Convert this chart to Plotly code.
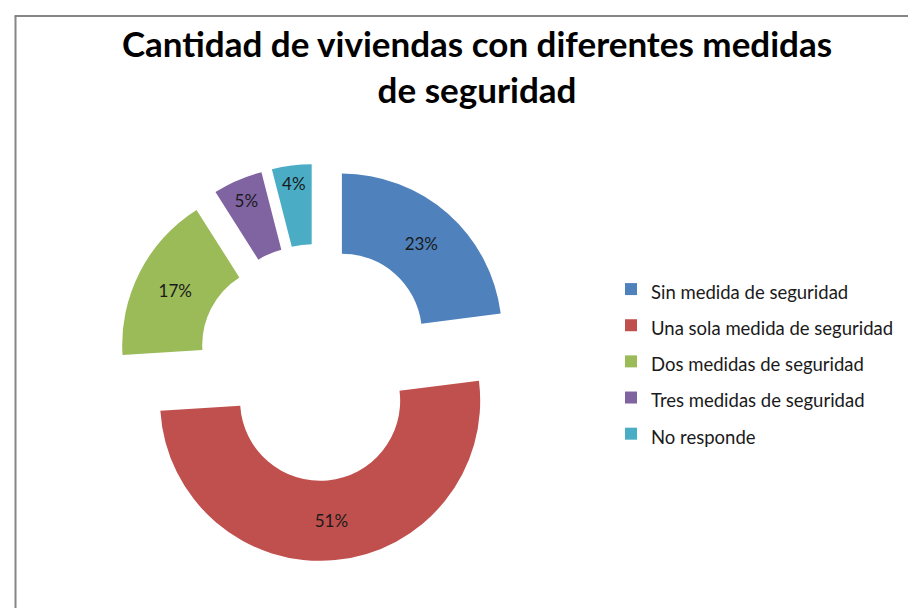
import plotly.graph_objects as go

categories = ["Sin medida de seguridad", "Una sola medida de seguridad",
              "Dos medidas de seguridad", "Tres medidas de seguridad", "No responde"]
percentages = [23, 51, 17, 5, 4]
colors = ["#4F81BD", "#C0504D", "#9BBB59", "#8064A2", "#4BACC6"]

W, H = 916, 608
legend_labels = ['<span style="font-size:18.5px">%s</span>' % c for c in categories]

fig = go.Figure(go.Pie(
    labels=legend_labels,
    values=percentages,
    text=[f"{p}%" for p in percentages],
    textinfo="text",
    textposition="inside",
    insidetextorientation="horizontal",
    textfont=dict(family="Lato", size=17, color="#1a1a1a"),
    marker=dict(colors=colors, line=dict(width=0)),
    hole=0.5,
    pull=[0.24] * 5,
    sort=False,
    direction="clockwise",
    rotation=0,
    domain=dict(x=[110 / W, 507 / W], y=[1 - 553 / H, 1 - 156 / H]),
    hoverinfo="label+text",
))

fig.update_layout(
    width=W, height=H,
    margin=dict(l=0, r=0, t=0, b=0),
    paper_bgcolor="white",
    plot_bgcolor="white",
    title=dict(
        text="<b>Cantidad de viviendas con diferentes medidas<br>de seguridad</b>",
        x=469 / W, xanchor="center", xref="paper",
        y=1 - 49 / H, yanchor="top", yref="paper",
        font=dict(family="Lato", size=35, color="black"),
    ),
    legend=dict(
        x=603 / W, xanchor="left",
        y=1 - 258 / H, yanchor="top",
        font=dict(family="Lato", size=25.5, color="#1a1a1a"),
        bgcolor="rgba(0,0,0,0)",
        traceorder="normal",
    ),
    uniformtext=dict(minsize=17, mode="show"),
    shapes=[
        dict(type="line", xref="paper", yref="paper", x0=7.5 / W, x1=7.5 / W, y0=0, y1=1 - 8 / H,
             line=dict(color="#868686", width=2)),
        dict(type="line", xref="paper", yref="paper", x0=6.5 / W, x1=1, y0=1 - 8 / H, y1=1 - 8 / H,
             line=dict(color="#868686", width=2)),
    ],
)

fig.write_html("out.html")
